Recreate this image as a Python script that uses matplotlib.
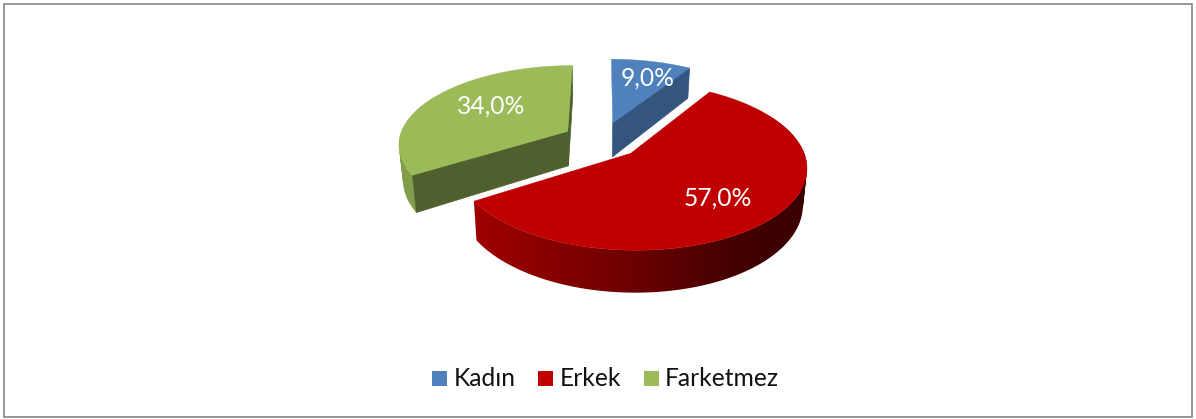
import numpy as np
import matplotlib
matplotlib.use("Agg")
import matplotlib.pyplot as plt
from matplotlib.patches import Polygon, Rectangle, PathPatch
from matplotlib.path import Path

categories = ["Kadın", "Erkek", "Farketmez"]
shares = [9.0, 57.0, 34.0]

colors = ["#4F81BD", "#C00000", "#9BBB59"]
cut_shade = [0.66, 0.6, 0.51]      # how dark the inner cut face is
cut_faces = [[1], [], [1, 0]]      # 0 = start edge, 1 = end edge of the slice
draw_order = [0, 2, 1]
label_pos = [(648, 78), (718, 198), (491, 106)]
legend_box_x = [432, 538, 644]
legend_text_x = [454, 560, 665]

# projection of the pie plane to pixels
CX, CY = 602.0, 140.0
A, B, P = 169.0, 78.0, 0.15
EXPLODE = 0.235
DEPTH = 35.0
SHRINK = 0.98


def project(x, y, low=False):
    w = 1 + P * y
    sx = A * x / w
    sy = -B * y / w
    if low:
        return CX + sx * SHRINK, CY + sy + DEPTH / w
    return CX + sx, CY + sy


def wall_gradient(color):
    # outer wall gets darker from left to right
    px = np.arange(390, 815)
    f = np.interp(px, [390, 475, 640, 730, 810], [0.85, 0.83, 0.55, 0.36, 0.30])
    rgb = np.array(matplotlib.colors.to_rgb(color))
    return (f[:, None] * rgb)[None, :, :], (px[0], px[-1] + 1, 420, 0)


def wall_path(xs, ys):
    # union of small quads, all wound the same way, so the silhouette is kept
    verts, codes = [], []
    for j in range(len(xs) - 1):
        q = [project(xs[j], ys[j]), project(xs[j + 1], ys[j + 1]),
             project(xs[j + 1], ys[j + 1], low=True), project(xs[j], ys[j], low=True)]
        a = np.array(q)
        area = np.sum(a[:, 0] * np.roll(a[:, 1], -1) - np.roll(a[:, 0], -1) * a[:, 1])
        if area < 0:
            q = q[::-1]
        verts += q + [q[0]]
        codes += [Path.MOVETO, Path.LINETO, Path.LINETO, Path.LINETO, Path.CLOSEPOLY]
    return Path(verts, codes)


fig = plt.figure(figsize=(11.96, 4.19), dpi=100)
ax = fig.add_axes([0, 0, 1, 1])
ax.axis("off")

ax.add_patch(Rectangle((4, 4), 1187.5, 413, fc="white", ec="#868686", lw=1.2))

edges = np.cumsum([0] + shares) / sum(shares) * 2 * np.pi
for i in draw_order:
    t0, t1 = edges[i], edges[i + 1]
    mid = (t0 + t1) / 2
    ox, oy = EXPLODE * np.sin(mid), EXPLODE * np.cos(mid)
    ts = np.linspace(t0, t1, 200)
    xs = ox + np.sin(ts)
    ys = oy + np.cos(ts)
    col = colors[i]

    # outer wall: gradient image clipped to the front part of the rim
    front = np.cos(ts) < 0.5
    if front.any():
        wall = PathPatch(wall_path(xs[front], ys[front]), fc="none", ec="none")
        ax.add_patch(wall)
        img, ext = wall_gradient(col)
        im = ax.imshow(img, extent=ext, aspect="auto", interpolation="bilinear", zorder=1)
        im.set_clip_path(wall)

    for k in cut_faces[i]:
        t = (t0, t1)[k]
        rim = (ox + np.sin(t), oy + np.cos(t))
        quad = [project(ox, oy), project(*rim), project(*rim, low=True), project(ox, oy, low=True)]
        dark = tuple(np.array(matplotlib.colors.to_rgb(col)) * cut_shade[i])
        ax.add_patch(Polygon(quad, fc=dark, ec=dark, lw=0.5, zorder=1.5))

    # top face
    top = [project(ox, oy)] + [project(x, y) for x, y in zip(xs, ys)]
    ax.add_patch(Polygon(top, fc=col, ec=col, lw=0.3, zorder=2 + i))

for i in range(len(categories)):
    txt = f"{shares[i]:.1f}%".replace(".", ",")
    ax.text(*label_pos[i], txt, color="white", fontsize=17.7, family="Lato",
            ha="center", va="center", zorder=10)
    ax.add_patch(Rectangle((legend_box_x[i], 371), 15, 15, fc=colors[i], ec="none"))
    ax.text(legend_text_x[i], 378, categories[i], color="#111111", fontsize=17.7,
            family="Lato", ha="left", va="center")

ax.set_xlim(0, 1196)
ax.set_ylim(419, 0)
fig.savefig("out.png", dpi=100)
